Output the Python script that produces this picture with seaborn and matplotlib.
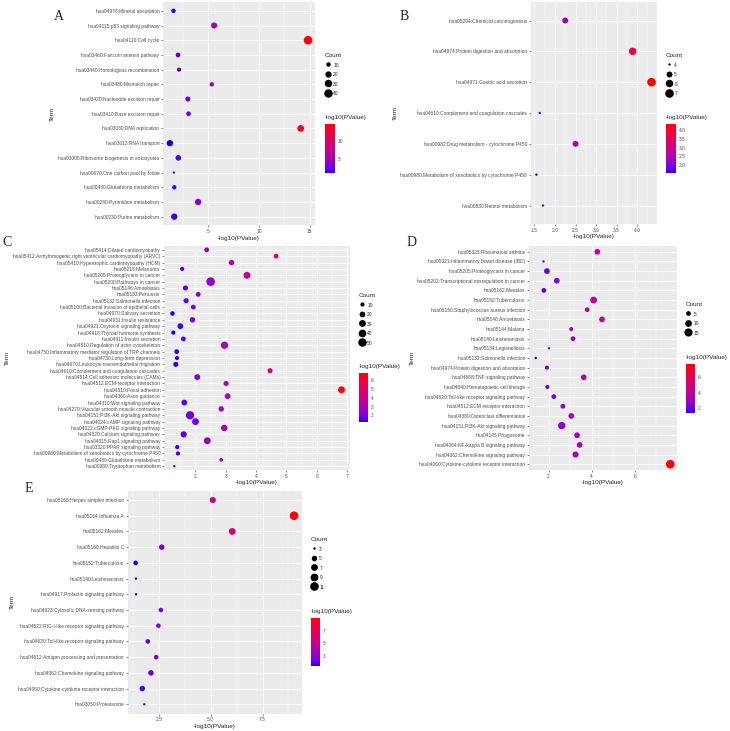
import numpy as np
import pandas as pd
import matplotlib
matplotlib.use('Agg')
import matplotlib.pyplot as plt
import matplotlib.cm as cm
import seaborn as sns
from matplotlib.colors import ListedColormap, Normalize
from matplotlib.lines import Line2D

# ---- panel A ----
a_terms = ['hsa04978:Mineral absorption', 'hsa04115:p53 signaling pathway', 'hsa04110:Cell cycle',
           'hsa03460:Fanconi anemia pathway', 'hsa03440:Homologous recombination', 'hsa03430:Mismatch repair',
           'hsa03420:Nucleotide excision repair', 'hsa03410:Base excision repair', 'hsa03030:DNA replication',
           'hsa03013:RNA transport', 'hsa03008:Ribosome biogenesis in eukaryotes',
           'hsa00670:One carbon pool by folate', 'hsa00480:Glutathione metabolism',
           'hsa00240:Pyrimidine metabolism', 'hsa00230:Purine metabolism']
a_logp = [1.55, 5.56, 14.83, 2.0, 2.1, 5.33, 2.97, 3.04, 14.1, 1.2, 2.03, 1.6, 1.63, 3.98, 1.63]
a_count = [10, 19, 42, 11, 9, 10, 13, 11, 24, 21, 16, 6, 10, 21, 21]

# ---- panel B ----
b_terms = ['hsa05204:Chemical carcinogenesis', 'hsa04974:Protein digestion and absorption',
           'hsa04971:Gastric acid secretion', 'hsa04610:Complement and coagulation cascades',
           'hsa00982:Drug metabolism - cytochrome P450',
           'hsa00980:Metabolism of xenobiotics by cytochrome P450', 'hsa00830:Retinol metabolism']
b_logp = [2.25, 3.89, 4.35, 1.63, 2.50, 1.55, 1.71]
b_count = [5, 6, 7, 4, 5, 4, 4]

# ---- panel C ----
c_terms = ['hsa05414:Dilated cardiomyopathy',
           'hsa05412:Arrhythmogenic right ventricular cardiomyopathy (ARVC)',
           'hsa05410:Hypertrophic cardiomyopathy (HCM)', 'hsa05218:Melanoma',
           'hsa05205:Proteoglycans in cancer', 'hsa05200:Pathways in cancer', 'hsa05146:Amoebiasis',
           'hsa05133:Pertussis', 'hsa05132:Salmonella infection',
           'hsa05100:Bacterial invasion of epithelial cells', 'hsa04970:Salivary secretion',
           'hsa04931:Insulin resistance', 'hsa04921:Oxytocin signaling pathway',
           'hsa04918:Thyroid hormone synthesis', 'hsa04911:Insulin secretion',
           'hsa04810:Regulation of actin cytoskeleton',
           'hsa04750:Inflammatory mediator regulation of TRP channels', 'hsa04730:Long-term depression',
           'hsa04670:Leukocyte transendothelial migration', 'hsa04610:Complement and coagulation cascades',
           'hsa04514:Cell adhesion molecules (CAMs)', 'hsa04512:ECM-receptor interaction',
           'hsa04510:Focal adhesion', 'hsa04360:Axon guidance', 'hsa04310:Wnt signaling pathway',
           'hsa04270:Vascular smooth muscle contraction', 'hsa04151:PI3K-Akt signaling pathway',
           'hsa04024:cAMP signaling pathway', 'hsa04022:cGMP-PKG signaling pathway',
           'hsa04020:Calcium signaling pathway', 'hsa04015:Rap1 signaling pathway',
           'hsa03320:PPAR signaling pathway', 'hsa00980:Metabolism of xenobiotics by cytochrome P450',
           'hsa00480:Glutathione metabolism', 'hsa00380:Tryptophan metabolism']
c_logp = [2.37, 4.66, 3.19, 1.56, 3.70, 2.50, 1.67, 2.09, 1.69, 1.93, 1.24, 1.90, 1.50, 1.27, 1.60,
          2.96, 1.38, 1.39, 1.35, 4.46, 2.06, 3.01, 6.82, 3.06, 1.63, 2.85, 1.82, 2.00, 2.95, 1.61,
          2.39, 1.40, 1.42, 2.85, 1.30]
c_count = [13, 13, 17, 10, 30, 52, 15, 13, 15, 13, 11, 17, 20, 10, 13, 34, 13, 10, 15, 15, 20, 15,
           30, 20, 20, 17, 47, 30, 26, 23, 30, 10, 10, 8, 6]

# ---- panel D ----
d_terms = ['hsa05323:Rheumatoid arthritis', 'hsa05321:Inflammatory bowel disease (IBD)',
           'hsa05205:Proteoglycans in cancer', 'hsa05202:Transcriptional misregulation in cancer',
           'hsa05162:Measles', 'hsa05152:Tuberculosis', 'hsa05150:Staphylococcus aureus infection',
           'hsa05146:Amoebiasis', 'hsa05144:Malaria', 'hsa05140:Leishmaniasis', 'hsa05134:Legionellosis',
           'hsa05132:Salmonella infection', 'hsa04974:Protein digestion and absorption',
           'hsa04668:TNF signaling pathway', 'hsa04640:Hematopoietic cell lineage',
           'hsa04620:Toll-like receptor signaling pathway', 'hsa04512:ECM-receptor interaction',
           'hsa04380:Osteoclast differentiation', 'hsa04151:PI3K-Akt signaling pathway',
           'hsa04145:Phagosome', 'hsa04064:NF-kappa B signaling pathway',
           'hsa04062:Chemokine signaling pathway', 'hsa04060:Cytokine-cytokine receptor interaction']
d_logp = [4.26, 1.76, 1.92, 2.38, 1.78, 4.09, 3.79, 4.48, 3.05, 3.13, 2.02, 1.40, 1.92, 3.63, 1.94,
          2.24, 2.66, 3.05, 2.61, 3.32, 3.44, 3.25, 7.65]
d_count = [7, 3, 7, 7, 5, 10, 5, 7, 4, 5, 3, 3, 4, 7, 4, 5, 5, 7, 12, 7, 7, 8, 17]

# ---- panel E ----
e_terms = ['hsa05168:Herpes simplex infection', 'hsa05164:Influenza A', 'hsa05162:Measles',
           'hsa05160:Hepatitis C', 'hsa05152:Tuberculosis', 'hsa05140:Leishmaniasis',
           'hsa04917:Prolactin signaling pathway', 'hsa04623:Cytosolic DNA-sensing pathway',
           'hsa04622:RIG-I-like receptor signaling pathway', 'hsa04620:Toll-like receptor signaling pathway',
           'hsa04612:Antigen processing and presentation', 'hsa04062:Chemokine signaling pathway',
           'hsa04060:Cytokine-cytokine receptor interaction', 'hsa03050:Proteasome']
e_logp = [5.10, 9.02, 6.04, 2.64, 1.38, 1.40, 1.40, 2.60, 2.48, 1.97, 2.37, 2.12, 1.70, 1.80]
e_count = [6, 11, 7, 5, 4, 3, 3, 4, 4, 4, 4, 5, 5, 3]

W, H = 730, 731


def lab_gradient(c1, c2, n=256):
    # ggplot-like gradient: interpolate in CIE Lab
    M = np.array([[0.4124, 0.3576, 0.1805], [0.2126, 0.7152, 0.0722], [0.0193, 0.1192, 0.9505]])
    wp = np.array([0.95047, 1.0, 1.08883])
    d = 6 / 29

    def to_lab(rgb):
        rgb = np.asarray(rgb, float)
        lin = np.where(rgb <= 0.04045, rgb / 12.92, ((rgb + 0.055) / 1.055) ** 2.4)
        xyz = M @ lin / wp
        f = np.where(xyz > d ** 3, np.cbrt(xyz), xyz / (3 * d * d) + 4 / 29)
        return np.array([116 * f[1] - 16, 500 * (f[0] - f[1]), 200 * (f[1] - f[2])])

    def to_rgb(lab):
        fy = (lab[0] + 16) / 116
        f = np.array([fy + lab[1] / 500, fy, fy - lab[2] / 200])
        xyz = np.where(f > d, f ** 3, 3 * d * d * (f - 4 / 29)) * wp
        lin = np.linalg.solve(M, xyz)
        lin = np.clip(lin, 0, 1)
        return np.clip(np.where(lin <= 0.0031308, 12.92 * lin, 1.055 * lin ** (1 / 2.4) - 0.055), 0, 1)

    l1, l2 = to_lab(c1), to_lab(c2)
    return ListedColormap([to_rgb(l1 + t * (l2 - l1)) for t in np.linspace(0, 1, n)])


cmap = lab_gradient((0, 0, 1), (1, 0, 0))

sns.set_theme(style='darkgrid')
plt.rcParams['font.family'] = ['Liberation Sans', 'DejaVu Sans']

fig = plt.figure(figsize=(W / 100, H / 100), dpi=100)


def frac(box):
    x0, y0, x1, y1 = box
    return [x0 / W, 1 - y1 / H, (x1 - x0) / W, (y1 - y0) / H]


def dot_panel(box, terms, logp, count, xticks, xlabels, breaks, cticks,
              leg_xy, cbox, letter, letter_xy):
    ax = fig.add_axes(frac(box))
    df = pd.DataFrame({'Term': terms, 'logp': logp, 'Count': count})
    lo, hi = min(count), max(count)

    def diam(v):
        return 1.7 + 4.5 * np.sqrt((v - lo) / (hi - lo))

    sizes = {c: diam(c) ** 2 for c in set(count)}
    vmin, vmax = min(logp), max(logp)
    sns.scatterplot(data=df, x='logp', y='Term', hue='logp', palette=cmap, hue_norm=(vmin, vmax),
                    size='Count', sizes=sizes, linewidth=0, legend=False, ax=ax, zorder=3)

    r = vmax - vmin
    ax.set_xlim(vmin - 0.05 * r, vmax + 0.05 * r)
    ax.set_ylim(len(terms) - 0.4, -0.6)
    ax.set_xticks(xticks)
    ax.set_xticklabels(xlabels)
    step = xticks[1] - xticks[0]
    minors = [m for m in np.arange(xticks[0] - step / 2, vmax + r, step)
              if ax.get_xlim()[0] < m < ax.get_xlim()[1]]
    ax.set_xticks(minors, minor=True)

    ax.set_facecolor('#EBEBEB')
    ax.grid(which='major', color='white', linewidth=0.6)
    ax.grid(which='minor', axis='x', color='white', linewidth=0.3)
    for s in ax.spines.values():
        s.set_visible(False)
    ax.tick_params(axis='both', which='major', labelsize=3.5, labelcolor='#4D4D4D',
                   length=1.5, width=0.4, color='#333333', pad=1.2, bottom=True, left=True)
    ax.tick_params(which='minor', length=0)
    ax.set_xlabel('-log10(PValue)', fontsize=4.6, labelpad=1.2)
    ax.set_ylabel('Term', fontsize=4.6, labelpad=2)

    handles = [Line2D([], [], marker='o', ls='', color='black', markersize=diam(b),
                      markeredgewidth=0) for b in breaks]
    ax.legend(handles, [str(b) for b in breaks], title='Count', loc='upper left',
              bbox_to_anchor=(leg_xy[0] / W, 1 - leg_xy[1] / H), bbox_transform=fig.transFigure,
              frameon=False, fontsize=3.5, title_fontsize=4.6, handlelength=1.2, handleheight=1.2,
              labelspacing=0.9, handletextpad=0.5, borderpad=0, borderaxespad=0, alignment='left')

    cax = fig.add_axes(frac(cbox))
    cb = fig.colorbar(cm.ScalarMappable(norm=Normalize(vmin, vmax), cmap=cmap), cax=cax)
    cb.outline.set_visible(False)
    cb.set_ticks(cticks)
    cax.grid(False)
    cax.tick_params(labelsize=3.5, labelcolor='#4D4D4D', length=2, width=0.4, color='white',
                    direction='in', pad=2)
    fig.text(cbox[0] / W, 1 - (cbox[1] - 6) / H, '-log10(PValue)', fontsize=4.6,
             ha='left', va='center')

    fig.text(letter_xy[0] / W, 1 - letter_xy[1] / H, letter, family='Liberation Serif',
             fontsize=10, ha='center', va='center')


dot_panel((163, 2, 315, 225.5), a_terms, a_logp, a_count,
          [5, 10, 15], ['5', '10', '15'], [10, 20, 30, 40], [5, 10],
          (325, 53), (325, 124, 335, 173), 'A', (59, 16))

dot_panel((530.7, 2, 657.3, 224), b_terms, b_logp, b_count,
          [1.5, 2.0, 2.5, 3.0, 3.5, 4.0], ['1.5', '2.0', '2.5', '3.0', '3.5', '4.0'],
          [4, 5, 6, 7], [2.0, 2.5, 3.0, 3.5, 4.0],
          (666, 53), (666, 124, 676, 173), 'B', (404, 16))

dot_panel((164, 246, 350, 470), c_terms, c_logp, c_count,
          [2, 3, 4, 5, 6, 7], ['2', '3', '4', '5', '6', '7'], [10, 20, 30, 40, 50], [2, 3, 4, 5, 6],
          (359, 293), (359, 373, 368, 422), 'C', (7, 243))

dot_panel((529, 246, 677, 470), d_terms, d_logp, d_count,
          [2, 4, 6], ['2', '4', '6'], [5, 10, 15], [2, 4, 6],
          (685.5, 302), (686, 364, 695, 413), 'D', (412, 243))

dot_panel((127.7, 490.6, 302, 713.7), e_terms, e_logp, e_count,
          [2.5, 5.0, 7.5], ['2.5', '5.0', '7.5'], [3, 5, 7, 9, 11], [3, 5, 7],
          (311, 537), (311, 618, 320, 666), 'E', (29, 488))

fig.savefig('out.png', dpi=100, facecolor='white')
